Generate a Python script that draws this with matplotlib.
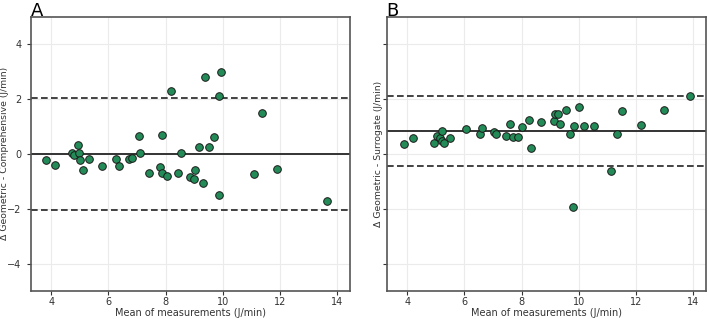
import matplotlib.pyplot as plt

# panel A - geometric vs comprehensive
mean_a = [3.83, 4.14, 4.71, 4.78, 4.94, 4.96, 5.01, 5.10, 5.31, 5.78,
          6.26, 6.37, 6.71, 6.82, 7.07, 7.11, 7.40, 7.80, 7.86, 7.88,
          8.05, 8.42, 8.52, 8.85, 8.99, 9.03, 9.18, 9.30, 9.50, 9.70,
          11.36, 9.88, 11.08, 11.88, 13.65, 8.17, 9.36, 9.93, 9.88]
diff_a = [-0.23, -0.40, 0.04, -0.05, 0.34, 0.04, -0.23, -0.58, -0.18, -0.44,
          -0.19, -0.44, -0.19, -0.15, 0.64, 0.05, -0.70, -0.47, -0.68, 0.68,
          -0.82, -0.69, 0.04, -0.85, -0.91, -0.58, 0.24, -1.05, 0.27, 0.63,
          1.50, -1.49, -0.75, -0.56, -1.70, 2.28, 2.79, 2.99, 2.11]
bias_a = 0.0
loa_a = [-2.05, 2.05]

# panel B - geometric vs surrogate
mean_b = [3.90, 4.22, 4.95, 5.06, 5.16, 5.23, 5.23, 5.30, 5.51, 6.04,
          6.55, 6.63, 7.02, 7.10, 7.45, 7.59, 7.71, 7.87, 8.01, 8.27,
          8.34, 8.67, 9.14, 9.17, 9.28, 9.34, 9.55, 9.69, 9.83, 10.01,
          10.18, 10.54, 11.32, 11.51, 12.17, 12.96, 13.90, 9.80, 11.12]
diff_b = [0.36, 0.58, 0.41, 0.65, 0.57, 0.84, 0.48, 0.40, 0.58, 0.92,
          0.74, 0.96, 0.81, 0.72, 0.65, 1.08, 0.63, 0.62, 0.98, 1.24,
          0.21, 1.16, 1.20, 1.45, 1.45, 1.09, 1.60, 0.73, 1.02, 1.72,
          1.01, 1.01, 0.73, 1.56, 1.07, 1.62, 2.10, -1.93, -0.64]
bias_b = 0.83
loa_b = [-0.45, 2.11]

panels = [
    ("A", mean_a, diff_a, bias_a, loa_a, "Δ Geometric - Comprehensive (J/min)"),
    ("B", mean_b, diff_b, bias_b, loa_b, "Δ Geometric - Surrogate (J/min)"),
]

fig = plt.figure(figsize=(7.09, 3.19), dpi=100)
lefts = [0.044, 0.546]
label_x = [-0.071, -0.013]
axes = []
for i, (tag, x, y, bias, loa, ylab) in enumerate(panels):
    ax = fig.add_axes([lefts[i], 0.088, 0.450, 0.859],
                      sharey=axes[0] if axes else None)
    axes.append(ax)
    ax.grid(True, color="#ebebeb", linewidth=0.8)
    ax.set_axisbelow(True)
    ax.axhline(bias, color="#333333", linewidth=1.4, zorder=2)
    for v in loa:
        ax.axhline(v, color="#222222", linestyle="--", linewidth=1.2,
                   dashes=(4, 2), zorder=2)
    ax.scatter(x, y, s=30, color="#238b57", edgecolor="#1a1a1a",
               linewidth=0.7, zorder=3)
    ax.set_xlim(3.3, 14.45)
    ax.set_ylim(-5, 5)
    ax.set_xticks([4, 6, 8, 10, 12, 14])
    ax.set_yticks([-4, -2, 0, 2, 4])
    ax.set_xlabel("Mean of measurements (J/min)", fontsize=7, color="#333333",
                  labelpad=0.5)
    ax.set_ylabel(ylab, fontsize=6.7, color="#333333")
    ax.yaxis.set_label_coords(label_x[i], 0.5)
    ax.tick_params(labelsize=7, colors="#333333", length=3, width=0.8)
    ax.tick_params(axis="x", pad=1.5)
    ax.tick_params(axis="y", pad=4)
    for s in ax.spines.values():
        s.set_color("#555555")
        s.set_linewidth(1.2)
    fig.text(lefts[i] - 0.001, 0.995, tag, fontsize=13, ha="left",
             va="top")

axes[1].tick_params(labelleft=False)

plt.savefig("out.png", dpi=100)
